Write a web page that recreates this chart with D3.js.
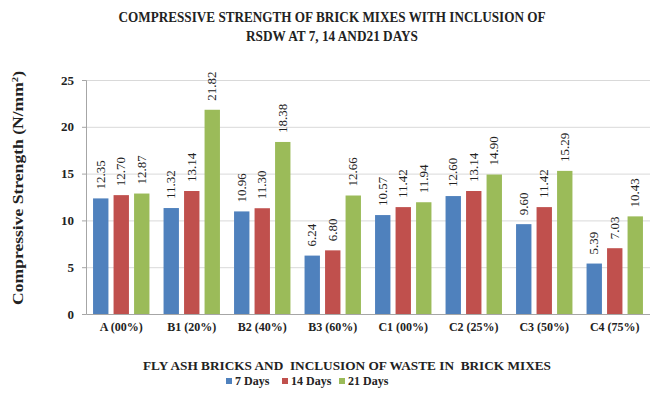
<!DOCTYPE html>
<html>
<head>
<meta charset="utf-8">
<script src="https://cdn.jsdelivr.net/npm/d3@7"></script>
<style>
  html, body { margin: 0; padding: 0; background: #fff; overflow: hidden; }
  svg { display: block; }
  svg text { font-family: "Liberation Serif", "DejaVu Serif", serif; }
  .grid line { stroke: #d9d9d9; }
  .grid .domain { display: none; }
</style>
</head>
<body>
<svg id="chart"></svg>
<script>
// Chart data
const categories = ['A (00%)', 'B1 (20%)', 'B2 (40%)', 'B3 (60%)', 'C1 (00%)', 'C2 (25%)', 'C3 (50%)', 'C4 (75%)'];
const seriesNames = ['7 Days', '14 Days', '21 Days'];
const days7  = [12.35, 11.32, 10.96, 6.24, 10.57, 12.60, 9.60, 5.39];
const days14 = [12.70, 13.14, 11.30, 6.80, 11.42, 13.14, 11.42, 7.03];
const days21 = [12.87, 21.82, 18.38, 12.66, 11.94, 14.90, 15.29, 10.43];
const yTicks = [0, 5, 10, 15, 20, 25];
const colors = ['#4f81bd', '#c0504d', '#9bbb59'];

const config = {
  width: 650,
  height: 396,
  margin: {top: 80, right: 0, bottom: 82, left: 86}
};

const seriesValues = [days7, days14, days21];
const data = categories.map((c, i) => ({
  category: c,
  values: seriesNames.map((s, j) => ({series: s, idx: j, value: seriesValues[j][i]}))
}));

const innerWidth = config.width - config.margin.left - config.margin.right;
const innerHeight = config.height - config.margin.top - config.margin.bottom;

const svg = d3.select('#chart')
    .attr('width', config.width)
    .attr('height', config.height);

const chart = svg.append('g')
    .attr('transform', `translate(${config.margin.left},${config.margin.top})`);

// Scales
const xScale = d3.scaleBand()
    .domain(categories)
    .range([0, innerWidth])
    .paddingInner(0.2)
    .paddingOuter(0.1);

const xSub = d3.scaleBand()
    .domain(seriesNames)
    .range([0, xScale.bandwidth()])
    .paddingInner(0.25);

const yScale = d3.scaleLinear()
    .domain([0, 25])
    .range([innerHeight, 0]);

// Gridlines
chart.append('g')
    .attr('class', 'grid')
    .call(d3.axisLeft(yScale).tickValues(yTicks.slice(1)).tickSize(-innerWidth).tickFormat(''));

// Y axis
const yAxisG = chart.append('g')
    .call(d3.axisLeft(yScale).tickValues(yTicks).tickSize(4).tickPadding(8).tickFormat(d3.format('d')));
yAxisG.select('.domain').attr('stroke', '#a6a6a6');
yAxisG.selectAll('.tick line').attr('stroke', '#a6a6a6');
yAxisG.selectAll('text')
    .style('font-size', '13px')
    .style('font-weight', 'bold')
    .attr('fill', '#222');

// X axis
const xAxisG = chart.append('g')
    .attr('transform', `translate(0,${innerHeight})`)
    .call(d3.axisBottom(xScale).tickSize(0).tickPadding(8));
xAxisG.select('.domain').attr('stroke', '#a6a6a6');
xAxisG.selectAll('text')
    .style('font-size', '12px')
    .style('font-weight', 'bold')
    .attr('fill', '#222');

// Bars
const groups = chart.selectAll('.group')
    .data(data)
  .join('g')
    .attr('class', 'group')
    .attr('transform', d => `translate(${xScale(d.category)},0)`);

groups.selectAll('.bar')
    .data(d => d.values)
  .join('rect')
    .attr('class', 'bar')
    .attr('x', d => xSub(d.series))
    .attr('width', xSub.bandwidth())
    .attr('y', d => yScale(d.value))
    .attr('height', d => innerHeight - yScale(d.value))
    .attr('fill', d => colors[d.idx]);

// Value labels
groups.selectAll('.label')
    .data(d => d.values)
  .join('text')
    .attr('class', 'label')
    .attr('transform', d => `translate(${xSub(d.series) + xSub.bandwidth() / 2 + 4},${yScale(d.value) - 9}) rotate(-90)`)
    .attr('text-anchor', 'start')
    .style('font-size', '13px')
    .attr('fill', '#222')
    .text(d => d.value.toFixed(2));

// Title
const titleLines = ['COMPRESSIVE STRENGTH OF BRICK MIXES WITH INCLUSION OF', 'RSDW AT 7, 14 AND21 DAYS'];
const titleLens = [427, 172];
svg.selectAll('.title')
    .data(titleLines)
  .join('text')
    .attr('class', 'title')
    .attr('x', 332)
    .attr('y', (d, i) => 22 + i * 19)
    .attr('text-anchor', 'middle')
    .attr('textLength', (d, i) => titleLens[i])
    .attr('lengthAdjust', 'spacingAndGlyphs')
    .style('font-size', '14px')
    .style('font-weight', 'bold')
    .attr('fill', '#222')
    .text(d => d);

// Y axis title
svg.append('text')
    .attr('transform', 'translate(23,188) rotate(-90)')
    .attr('text-anchor', 'middle')
    .attr('textLength', 234)
    .attr('lengthAdjust', 'spacingAndGlyphs')
    .style('font-size', '15px')
    .style('font-weight', 'bold')
    .attr('fill', '#222')
    .html('Compressive Strength (N/mm<tspan dy="-5" font-size="9px">2</tspan><tspan dy="5">)</tspan>');

// X axis title
svg.append('text')
    .attr('x', 347)
    .attr('y', 370)
    .attr('text-anchor', 'middle')
    .attr('textLength', 408)
    .attr('lengthAdjust', 'spacingAndGlyphs')
    .style('font-size', '13px')
    .style('font-weight', 'bold')
    .style('white-space', 'pre')
    .attr('fill', '#222')
    .text('FLY ASH BRICKS AND  INCLUSION OF WASTE IN  BRICK MIXES');

// Legend
const legendX = [226, 282, 339];
const legend = svg.selectAll('.legend')
    .data(seriesNames)
  .join('g')
    .attr('class', 'legend')
    .attr('transform', (d, i) => `translate(${legendX[i]},382)`);

legend.append('rect')
    .attr('x', 0)
    .attr('y', -4)
    .attr('width', 6)
    .attr('height', 6)
    .attr('fill', (d, i) => colors[i]);

legend.append('text')
    .attr('x', 9)
    .attr('y', 3)
    .style('font-size', '12px')
    .style('font-weight', 'bold')
    .attr('fill', '#222')
    .text(d => d);
</script>
</body>
</html>
